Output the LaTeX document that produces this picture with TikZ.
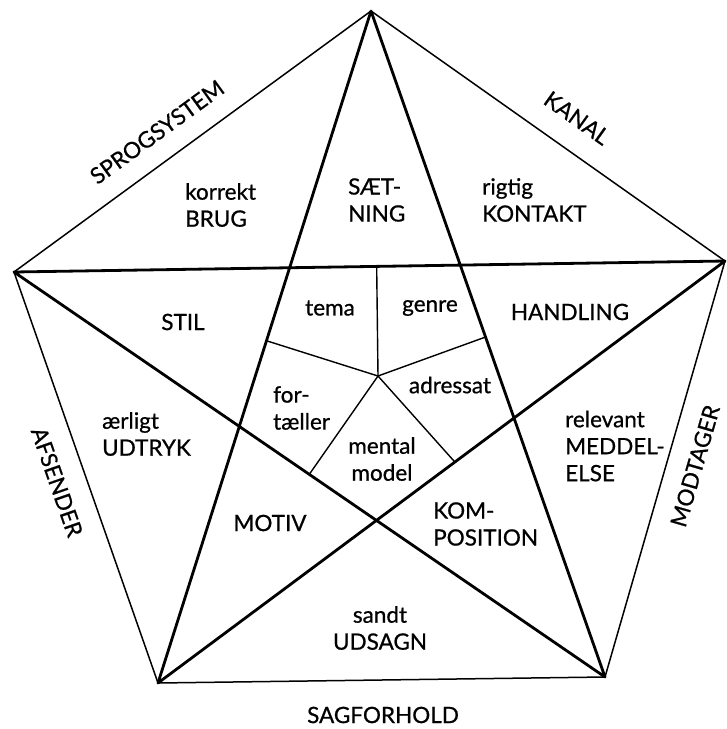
\documentclass[tikz,border=0pt]{standalone}
\usepackage{fontspec}
\setmainfont{Lato}
\newfontfamily\gillfont{Lato}[FakeBold=0.7]
\usetikzlibrary{calc}
\begin{document}
\begin{tikzpicture}[
  x=1pt, y=-1pt,
  lbl/.style={font=\gillfont\fontsize{22.5}{27}\selectfont, inner sep=0pt, align=center},
  lft/.style={lbl, anchor=west, align=left},
  rim/.style={line width=1.5pt, line join=round},
  star/.style={line width=2.8pt, line join=round, line cap=round},
  spoke/.style={line width=1.4pt}
]
\useasboundingbox (0,0) rectangle (727,729);
% outer corners
\coordinate (T)  at (371,11);
\coordinate (L)  at (14,272);
\coordinate (R)  at (725,261);
\coordinate (BL) at (158,683);
\coordinate (BR) at (605,677);
% inner pentagon and its centre
\coordinate (A) at (intersection of T--BL and L--R);
\coordinate (B) at (intersection of T--BR and L--R);
\coordinate (C) at (intersection of T--BR and R--BL);
\coordinate (D) at (intersection of R--BL and L--BR);
\coordinate (E) at (intersection of L--BR and T--BL);
\coordinate (O) at (378,376);

\draw[rim] (T) -- (R) -- (BR) -- (BL) -- (L) -- cycle;
\draw[star] (T) -- (BL) (T) -- (BR) (L) -- (R) (L) -- (BR) (R) -- (BL);
\draw[spoke] (O) -- ($(A)!0.51!(B)$);
\draw[spoke] (O) -- ($(A)!0.46!(E)$);
\draw[spoke] (O) -- ($(B)!0.47!(C)$);
\draw[spoke] (O) -- ($(E)!0.51!(D)$);
\draw[spoke] (O) -- ($(C)!0.43!(D)$);

% sides
\node[lbl, rotate=36]    (sprog) at (157,132) {SPROGSYSTEM};
\node[lbl, rotate=-35.5] (kanal) at (577,118) {KANAL};
\node[lbl, rotate=-70.7] (afs)   at (57,482)  {AFSENDER};
\node[lbl, rotate=73.9]  (modt)  at (695,466) {MODTAGER};
\node[lbl]               (sag)   at (383,715) {SAGFORHOLD};
% outer triangles
\node[lft] (brug)   at (185,205) {korrekt\\BRUG};
\node[lft] (kont)   at (482,200) {rigtig\\KONTAKT};
\node[lft] (udtryk) at (102,434) {ærligt\\UDTRYK};
\node[lft] (medd)   at (565,446) {relevant\\MEDDEL-\\ELSE};
\node[lbl] (udsagn) at (380,628) {sandt\\UDSAGN};
% star points
\node[lft] (saet) at (348,200) {SÆT-\\NING};
\node[lbl] (stil) at (183,322) {STIL};
\node[lbl] (hand) at (570,312) {HANDLING};
\node[lbl] (mot)  at (270,523) {MOTIV};
\node[lft] (komp) at (433,524) {KOM-\\POSITION};
% inner pentagon
\node[lbl] (tema)  at (330,308) {tema};
\node[lbl] (genre) at (430,308) {genre};
\node[lft] (fort)  at (273,408) {for-\\tæller};
\node[lbl] (adr)   at (450,385) {adressat};
\node[lbl] (ment)  at (382,459) {mental\\model};
\end{tikzpicture}
\end{document}
